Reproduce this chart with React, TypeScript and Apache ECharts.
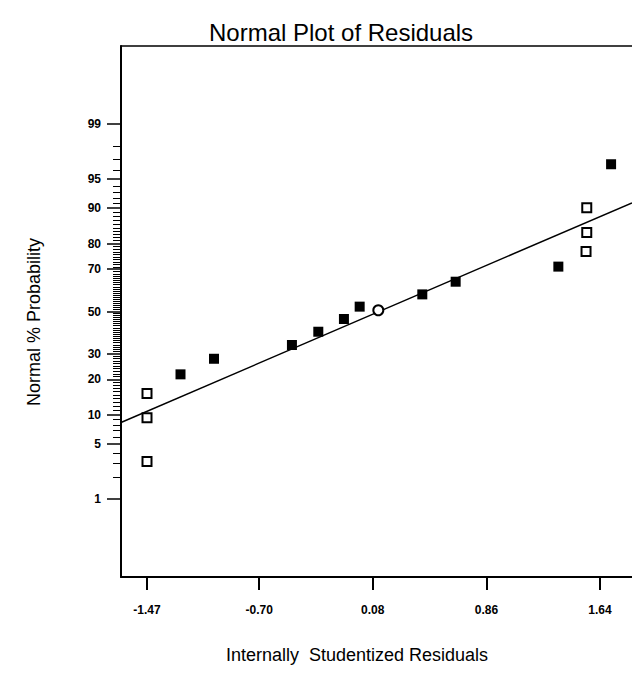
import React, { useEffect, useRef } from "react";
import * as echarts from "echarts";

// ---- data ----
const xTickValues = [-1.47, -0.7, 0.08, 0.86, 1.64];
const yTickPercents = [1, 5, 10, 20, 30, 50, 70, 80, 90, 95, 99];

const filledResiduals = [-1.24, -1.01, -0.475, -0.294, -0.118, -0.01, 0.42, 0.649, 1.354, 1.716];
const filledPercents = [21.8, 27.9, 33.9, 40.1, 46.3, 52.4, 58.4, 64.4, 71.1, 96.6];

const openResiduals = [-1.47, -1.47, -1.47, 1.544, 1.549, 1.549];
const openPercents = [3.15, 9.4, 15.5, 77.1, 83.6, 90.1];

const circleResiduals = [0.118];
const circlePercents = [50.6];

const lineResiduals = [-1.6485, 1.8596];
const linePercents = [8.45, 91.1];

const xRange = [-1.6485, 1.8596];
const yPercentRange = [0.05, 99.95];

// inverse normal CDF (probability scale of the y axis)
function probit(p: number): number {
  const a = [-3.969683028665376e1, 2.209460984245205e2, -2.759285104469687e2, 1.38357751867269e2, -3.066479806614716e1, 2.506628277459239];
  const b = [-5.447609879822406e1, 1.615858368580409e2, -1.556989798598866e2, 6.680131188771972e1, -1.328068155288572e1];
  const c = [-7.784894002430293e-3, -3.223964580411365e-1, -2.400758277161838, -2.549732539343734, 4.374664141464968, 2.938163982698783];
  const d = [7.784695709041462e-3, 3.224671290700398e-1, 2.445134137142996, 3.754408661907416];
  const pl = 0.02425;
  const ph = 1 - pl;
  if (p < pl) {
    const q = Math.sqrt(-2 * Math.log(p));
    return (((((c[0] * q + c[1]) * q + c[2]) * q + c[3]) * q + c[4]) * q + c[5]) / ((((d[0] * q + d[1]) * q + d[2]) * q + d[3]) * q + 1);
  }
  if (p <= ph) {
    const q = p - 0.5;
    const r = q * q;
    return ((((((a[0] * r + a[1]) * r + a[2]) * r + a[3]) * r + a[4]) * r + a[5]) * q) / (((((b[0] * r + b[1]) * r + b[2]) * r + b[3]) * r + b[4]) * r + 1);
  }
  const q = Math.sqrt(-2 * Math.log(1 - p));
  return -(((((c[0] * q + c[1]) * q + c[2]) * q + c[3]) * q + c[4]) * q + c[5]) / ((((d[0] * q + d[1]) * q + d[2]) * q + d[3]) * q + 1);
}
const zOf = (pct: number) => probit(pct / 100);

const minorPercents: number[] = [];
for (let i = 1; i <= 99; i++) if (!yTickPercents.includes(i)) minorPercents.push(i);

const FONT = "'Liberation Sans', Arial, Helvetica, sans-serif";

export default function App() {
  const ref = useRef<HTMLDivElement>(null);
  useEffect(() => {
    if (!ref.current) return;
    const chart = echarts.init(ref.current, null, { renderer: "svg" });
    const yMin = zOf(yPercentRange[0]);
    const yMax = zOf(yPercentRange[1]);
    const majorZ = yTickPercents.map(zOf);
    const toPts = (xs: number[], ps: number[]) => xs.map((x, i) => [x, zOf(ps[i])]);

    chart.setOption({
      animation: false,
      backgroundColor: "#ffffff",
      title: {
        text: "Normal Plot of Residuals",
        left: 204,
        top: 15,
        textStyle: { fontFamily: FONT, fontSize: 24, fontWeight: "normal", color: "#000" },
      },
      grid: { left: 121, right: 0, top: 46, bottom: 116, containLabel: false },
      xAxis: [
        {
          type: "value",
          min: xRange[0],
          max: xRange[1],
          position: "bottom",
          splitLine: { show: false },
          axisLine: { show: true, onZero: false, lineStyle: { color: "#000", width: 2 } },
          axisTick: { show: true, inside: false, length: 13, customValues: xTickValues, lineStyle: { color: "#000", width: 2 } },
          axisLabel: {
            show: true,
            customValues: xTickValues,
            margin: 27,
            fontFamily: FONT,
            fontSize: 12,
            fontWeight: "bold",
            color: "#000",
            formatter: (v: number) => v.toFixed(2),
          },
        },
        {
          type: "value",
          min: xRange[0],
          max: xRange[1],
          position: "top",
          splitLine: { show: false },
          axisLine: { show: true, onZero: false, lineStyle: { color: "#000", width: 1.5 } },
          axisTick: { show: false },
          axisLabel: { show: false },
        },
      ],
      yAxis: [
        {
          type: "value",
          min: yMin,
          max: yMax,
          position: "left",
          splitLine: { show: false },
          axisLine: { show: true, onZero: false, lineStyle: { color: "#000", width: 2 } },
          axisTick: { show: true, inside: false, length: 14, customValues: majorZ, lineStyle: { color: "#000", width: 1.5 } },
          axisLabel: {
            show: true,
            customValues: majorZ,
            margin: 20,
            fontFamily: FONT,
            fontSize: 12,
            fontWeight: "bold",
            color: "#000",
            formatter: (v: number) => {
              const idx = majorZ.findIndex((z) => Math.abs(z - v) < 1e-6);
              return idx >= 0 ? String(yTickPercents[idx]) : "";
            },
          },
        },
        {
          type: "value",
          min: yMin,
          max: yMax,
          position: "left",
          splitLine: { show: false },
          axisLine: { show: false, onZero: false },
          axisTick: { show: true, inside: false, length: 8, customValues: minorPercents.map(zOf), lineStyle: { color: "#000", width: 1 } },
          axisLabel: { show: false },
        },
      ],
      graphic: [
        {
          type: "text",
          x: 357,
          y: 655,
          style: {
            text: "Internally  Studentized Residuals",
            fontFamily: FONT,
            fontSize: 18,
            fill: "#000",
            textAlign: "center",
            textVerticalAlign: "middle",
          },
        },
        {
          type: "text",
          x: 34,
          y: 322,
          rotation: Math.PI / 2,
          style: {
            text: "Normal % Probability",
            fontFamily: FONT,
            fontSize: 18,
            fill: "#000",
            textAlign: "center",
            textVerticalAlign: "middle",
          },
        },
      ],
      series: [
        {
          name: "Fit",
          type: "line",
          data: toPts(lineResiduals, linePercents),
          symbol: "none",
          lineStyle: { color: "#000", width: 1.5 },
          z: 1,
        },
        {
          name: "Filled",
          type: "scatter",
          data: toPts(filledResiduals, filledPercents),
          symbol: "rect",
          symbolSize: 10,
          itemStyle: { color: "#000", opacity: 1 },
          z: 3,
        },
        {
          name: "Open",
          type: "scatter",
          data: toPts(openResiduals, openPercents),
          symbol: "rect",
          symbolSize: 9,
          itemStyle: { color: "#fff", borderColor: "#000", borderWidth: 2, opacity: 1 },
          z: 3,
        },
        {
          name: "Circle",
          type: "scatter",
          data: toPts(circleResiduals, circlePercents),
          symbol: "circle",
          symbolSize: 10,
          itemStyle: { color: "#fff", borderColor: "#000", borderWidth: 2, opacity: 1 },
          z: 3,
        },
      ],
    });
    return () => chart.dispose();
  }, []);

  return <div ref={ref} style={{ position: "absolute", left: 0, top: 0, width: 632, height: 693 }} />;
}
